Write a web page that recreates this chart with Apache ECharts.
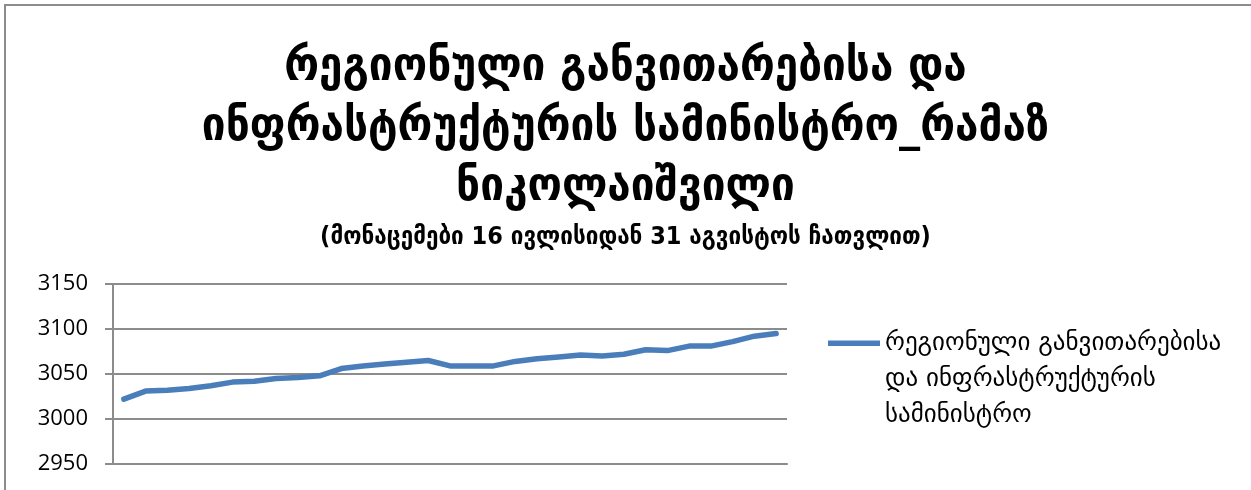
<!DOCTYPE html>
<html>
<head>
<meta charset="utf-8">
<script src="https://cdn.jsdelivr.net/npm/echarts@6/dist/echarts.min.js"></script>
<style>
html,body{margin:0;padding:0;background:#fff;}
#chart{width:1251px;height:490px;}
</style>
</head>
<body>
<div id="chart"></div>
<script>
const titleText = 'რეგიონული განვითარებისა და\nინფრასტრუქტურის სამინისტრო_რამაზ\nნიკოლაიშვილი';
const subtitleText = '(მონაცემები 16 ივლისიდან 31 აგვისტოს ჩათვლით)';
const seriesName = 'რეგიონული განვითარებისა და ინფრასტრუქტურის სამინისტრო';
const categories = ['1','2','3','4','5','6','7','8','9','10','11','12','13','14','15','16','17','18','19','20','21','22','23','24','25','26','27','28','29','30','31'];
const values = [3022,3031,3032,3034,3037,3041,3042,3045,3046,3048,3056,3059,3061,3063,3065,3059,3059,3059,3064,3067,3069,3071,3070,3072,3077,3076,3081,3081,3086,3092,3095];
const yTicks = {min:2950, max:3150, interval:50};

const chart = echarts.init(document.getElementById('chart'), null, {renderer:'canvas'});
chart.setOption({
  animation:false,
  backgroundColor:'#fff',
  graphic:[{type:'rect', shape:{x:5,y:5,width:1300,height:600}, style:{fill:'none', stroke:'#8c8c8c', lineWidth:2}, silent:true}],
  title:{
    text:titleText,
    subtext:subtitleText,
    left:'center', top:33, itemGap:6,
    textStyle:{fontFamily:'DejaVu Sans Condensed', fontWeight:'bold', fontSize:47, lineHeight:60, color:'#000'},
    subtextStyle:{fontFamily:'DejaVu Sans Condensed', fontWeight:'bold', fontSize:25, lineHeight:26, color:'#000'}
  },
  legend:{
    orient:'vertical', left:828, top:325, padding:0,
    itemWidth:52, itemHeight:77, itemGap:0,
    icon:'path://M0,0 L52,0 L52,5.5 L0,5.5 Z M0,76.9 L0.01,76.9 L0.01,77 L0,77 Z',
    formatter: n => n.replace(' და ', '\nდა ').replace('ინფრასტრუქტურის ', 'ინფრასტრუქტურის\n'),
    textStyle:{fontFamily:'DejaVu Sans', fontSize:25, lineHeight:36, color:'#000'}
  },
  grid:{left:113, right:464, top:284, bottom:26, containLabel:false},
  xAxis:{
    type:'category', data:categories, boundaryGap:true,
    axisLine:{show:true, lineStyle:{color:'#8c8c8c', width:2}},
    axisTick:{show:false}, axisLabel:{show:false}, splitLine:{show:false}
  },
  yAxis:{
    type:'value', min:yTicks.min, max:yTicks.max, interval:yTicks.interval,
    axisLine:{show:true, lineStyle:{color:'#8c8c8c', width:2}},
    axisTick:{show:true, length:8, lineStyle:{color:'#8c8c8c', width:2}},
    axisLabel:{margin:25, fontFamily:'Open Sans', fontSize:22, color:'#000', formatter: v => String(v)},
    splitLine:{show:true, lineStyle:{color:'#8c8c8c', width:2}}
  },
  series:[{
    name:seriesName, type:'line', data:values, symbol:'none', smooth:false,
    lineStyle:{color:'#4a7ebb', width:5.5, cap:'round', join:'round'},
    itemStyle:{color:'#4a7ebb'}
  }]
});
</script>
</body>
</html>
